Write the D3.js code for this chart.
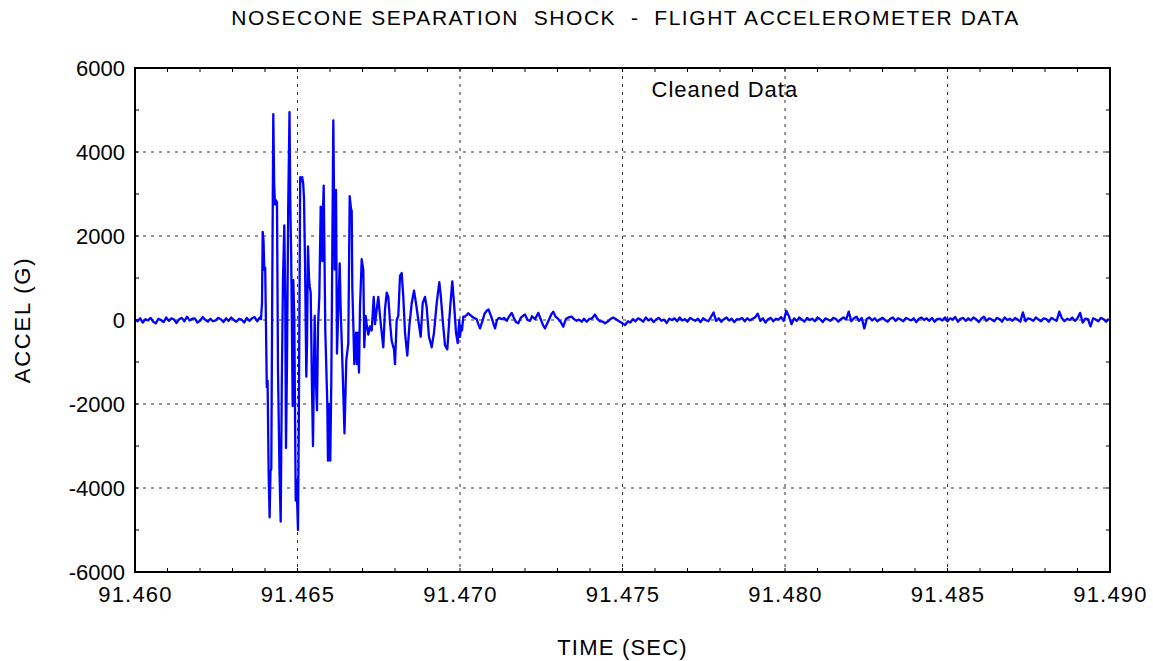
<!DOCTYPE html>
<html><head><meta charset="utf-8">
<script src="https://cdn.jsdelivr.net/npm/d3@7"></script>
<style>body{margin:0;background:#fff}svg{display:block}text{font-family:"Liberation Sans",Arial,sans-serif;fill:#000;white-space:pre}</style>
</head><body><div id="chart"></div>
<script>
const titleText = "NOSECONE SEPARATION  SHOCK  -  FLIGHT ACCELEROMETER DATA";
const xLabel = "TIME (SEC)";
const yLabel = "ACCEL (G)";
const annotation = "Cleaned Data";
const xTicks = [91.460, 91.465, 91.470, 91.475, 91.480, 91.485, 91.490];
const yTicks = [-6000, -4000, -2000, 0, 2000, 4000, 6000];

// quiet record before the event (uniform sampling)
const preStart = 91.4600, preStep = 0.00008;
const preAccel = [10,-30,40,-60,20,-10,50,-40,-80,30,0,-50,60,-20,40,10,-70,20,50,-30,80,-10,30,40,-60,-20,70,10,-40,30,-30,-10,50,20,-50,40,-20,60,0,-40,30,10,-60,50,-20,40,70,-30,60];

// shock event samples
const burstTime = [91.463877,91.463908,91.463929,91.463954,91.463978,91.464006,91.464031,91.464055,91.464080,91.464111,91.464142,91.464169,91.464194,91.464222,91.464255,91.464283,91.464308,91.464338,91.464369,91.464400,91.464446,91.464483,91.464517,91.464554,91.464594,91.464622,91.464646,91.464677,91.464714,91.464754,91.464778,91.464806,91.464852,91.464871,91.464902,91.464945,91.464969,91.465015,91.465040,91.465083,91.465114,91.465145,91.465175,91.465200,91.465231,91.465271,91.465292,91.465323,91.465354,91.465375,91.465406,91.465446,91.465477,91.465508,91.465529,91.465551,91.465600,91.465631,91.465671,91.465714,91.465745,91.465763,91.465785,91.465806,91.465831,91.465855,91.465917,91.465938,91.465969,91.466009,91.466040,91.466102,91.466145,91.466185,91.466215,91.466255,91.466298,91.466329,91.466391,91.466446,91.466502,91.466563,91.466606,91.466646,91.466668,91.466686,91.466717,91.466748,91.466800,91.466831,91.466862,91.466892,91.466923,91.466975,91.467025,91.467055,91.467098,91.467129,91.467178,91.467231,91.467283,91.467345,91.467385,91.467437,91.467486,91.467538,91.467591,91.467640,91.467692,91.467745,91.467794,91.467846,91.467898,91.467969,91.468000,91.468052,91.468102,91.468154,91.468206,91.468255,91.468308,91.468378,91.468440,91.468514,91.468585,91.468646,91.468717,91.468791,91.468852,91.468923,91.468975,91.469046,91.469129,91.469200,91.469283,91.469363,91.469406,91.469468,91.469538,91.469609,91.469692,91.469763,91.469815,91.469877,91.469929,91.469978,91.470000,91.470031,91.470062,91.470102,91.470154,91.470206,91.470255,91.470308,91.470409,91.470514,91.470554,91.470615,91.470692,91.470754,91.470822,91.470877,91.470954,91.471015,91.471077,91.471138,91.471200,91.471283,91.471354,91.471437,91.471508,91.471591,91.471662,91.471723,91.471794,91.471868,91.471938,91.472000,91.472077,91.472154,91.472215,91.472308,91.472409,91.472492,91.472554,91.472615,91.472708,91.472800,91.472871,91.472938,91.473015,91.473092,91.473178,91.473262,91.473338,91.473437,91.473508,91.473585,91.473662,91.473745,91.473815,91.473898,91.473969,91.474062,91.474154,91.474231,91.474308,91.474400,91.474462,91.474554,91.474646,91.474717,91.474800,91.474892,91.475000,91.475077,91.475169];
const burstAccel = [20,400,2100,1900,1200,1250,-200,-1600,-1450,-3600,-4700,-3600,-3550,600,4900,3200,2750,2850,2800,-1200,-3600,-4800,-1500,1000,2250,500,-3050,-1000,2700,4950,2800,1500,-2050,950,0,-4300,-3800,-5000,-2500,3400,3300,3400,3250,2900,1400,-1350,-600,1750,1000,800,650,-1650,-3000,-1000,100,-1150,-2150,-150,550,2700,2500,1400,2600,3200,1500,-250,-2000,-3350,-2000,-3350,-1450,4750,1200,3100,-800,250,1350,250,-1250,-2700,-950,-560,2950,2650,2600,800,-100,-1050,-300,-1050,-300,-1250,300,1450,1200,-650,100,-100,-350,-150,-250,550,-100,250,550,100,-300,-650,250,650,550,-50,-500,-700,-1050,0,100,1050,1120,550,-300,-850,-150,400,700,400,0,-400,400,550,300,-400,-650,-300,400,900,600,0,-600,-700,250,920,400,-300,-550,0,-400,-150,-250,80,80,120,160,120,60,20,-80,-200,-20,150,220,250,100,-50,-200,0,50,20,50,-20,80,170,40,-50,-80,50,100,130,0,-20,90,20,170,0,-120,-200,-40,120,200,80,30,-40,-160,30,60,80,20,-20,10,-40,30,-40,20,40,130,20,-30,-40,-80,-30,30,60,20,-30,-80,-120,-30];

// residual noise after the event (uniform sampling)
const postStart = 91.47524, postStep = 0.00008;
const postAccel = [-60,20,-30,40,10,-40,60,-10,30,-50,
20,50,-20,10,-70,30,0,40,-30,60,
-10,20,-40,50,10,-20,30,-50,40,0,
-30,70,180,-20,40,-40,20,60,-10,30,
-50,20,10,50,-30,40,-10,30,60,150,
-20,40,-60,20,50,-30,30,10,70,-20,
220,90,-100,40,-20,60,10,-40,50,0,
30,-30,60,20,-50,40,10,-20,50,30,
-40,20,60,10,200,-30,40,80,-20,50,
-200,30,60,-10,40,-30,20,50,0,-40,
30,60,-20,40,10,-30,50,20,-10,40,
-50,30,60,0,40,-20,50,-40,20,30,
-10,60,-30,40,10,70,-40,30,50,-20,
40,-10,60,20,-50,30,80,-20,40,10,
-30,50,20,-40,60,0,30,-20,50,10,
-40,180,-30,40,20,-20,60,10,-30,40,
20,-40,50,10,-20,200,40,-30,30,0,
60,-20,40,170,-60,30,20,-150,40,10,
-30,50,20,-40,30];

const W = 1153, H = 661;
const m = {left:135, right:43, top:68, bottom:89};
const iw = W - m.left - m.right, ih = H - m.top - m.bottom;

const data = [];
preAccel.forEach((v,i)=>data.push([preStart + i*preStep, v]));
burstTime.forEach((t,i)=>data.push([t, burstAccel[i]]));
postAccel.forEach((v,i)=>data.push([postStart + i*postStep, v]));

const svg = d3.select("#chart").append("svg").attr("width",W).attr("height",H);
const g = svg.append("g").attr("transform",`translate(${m.left},${m.top})`);

const x = d3.scaleLinear().domain([91.460, 91.490]).range([0, iw]);
const y = d3.scaleLinear().domain([-6000, 6000]).range([ih, 0]);

// grid
g.append("g").selectAll("line").data(xTicks.slice(1,-1)).join("line")
  .attr("x1",d=>x(d)).attr("x2",d=>x(d)).attr("y1",0).attr("y2",ih)
  .attr("stroke","#333").attr("stroke-width",1).attr("stroke-dasharray","3,5");
g.append("g").selectAll("line").data(yTicks.slice(1,-1)).join("line")
  .attr("y1",d=>y(d)).attr("y2",d=>y(d)).attr("x1",0).attr("x2",iw)
  .attr("stroke","#333").attr("stroke-width",1).attr("stroke-dasharray","3,5");

// minor ticks (inward) on all four sides
const xMinor = d3.range(0,31).map(i=>91.460 + i*0.001);
const yMinor = d3.range(-6000,6001,1000);
const tl = 4;
const mt = g.append("g").attr("stroke","#000").attr("stroke-width",1);
xMinor.forEach(t=>{
  mt.append("line").attr("x1",x(t)).attr("x2",x(t)).attr("y1",ih).attr("y2",ih-tl);
  mt.append("line").attr("x1",x(t)).attr("x2",x(t)).attr("y1",0).attr("y2",tl);
});
yMinor.forEach(v=>{
  mt.append("line").attr("y1",y(v)).attr("y2",y(v)).attr("x1",0).attr("x2",tl);
  mt.append("line").attr("y1",y(v)).attr("y2",y(v)).attr("x1",iw).attr("x2",iw-tl);
});

// data line
g.append("path").datum(data)
  .attr("fill","none").attr("stroke","#0000ff").attr("stroke-width",2.3)
  .attr("stroke-linejoin","round")
  .attr("d", d3.line().x(d=>x(d[0])).y(d=>y(d[1])));

// axes
const xAxis = d3.axisBottom(x).tickValues(xTicks).tickFormat(d3.format(".3f")).tickSize(0).tickPadding(14);
const yAxis = d3.axisLeft(y).tickValues(yTicks).tickFormat(d=>String(d)).tickSize(0).tickPadding(10);
const xa = g.append("g").attr("transform",`translate(0,${ih})`).call(xAxis);
const ya = g.append("g").call(yAxis);
[xa,ya].forEach(a=>{a.select(".domain").remove(); a.selectAll("text").style("font-size","22px").attr("fill","#000").style("font-family",'"Liberation Sans",Arial,sans-serif');});
xa.selectAll("text").style("letter-spacing","1.2px");

// frame
g.append("rect").attr("x",0).attr("y",0).attr("width",iw).attr("height",ih)
  .attr("fill","none").attr("stroke","#000").attr("stroke-width",2);

// texts
svg.append("text").attr("x",m.left+iw/2+3).attr("y",25).attr("text-anchor","middle")
  .style("font-size","21px").style("letter-spacing","1.55px").text(titleText);
svg.append("text").attr("x",m.left+iw/2).attr("y",655).attr("text-anchor","middle")
  .style("font-size","22px").style("letter-spacing","1.2px").text(xLabel);
svg.append("text").attr("transform",`translate(30,${m.top+ih/2}) rotate(-90)`).attr("text-anchor","middle")
  .style("font-size","22px").style("letter-spacing","1.8px").text(yLabel);
g.append("text").attr("x",x(91.47815)).attr("y",y(5300)).attr("text-anchor","middle")
  .style("font-size","22px").style("letter-spacing","1px").text(annotation);
</script></body></html>
